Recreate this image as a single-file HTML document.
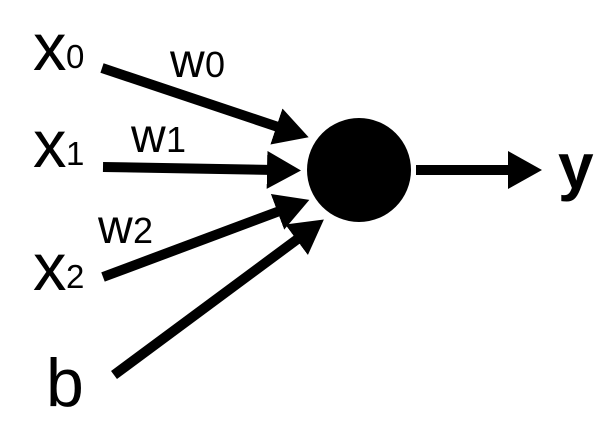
<!DOCTYPE html>
<html><head><meta charset="utf-8"><style>
html,body{margin:0;padding:0;background:#fff;}
svg{display:block;}
text{font-family:"Liberation Sans",Arial,sans-serif;fill:#000;}
</style></head><body>
<svg width="611" height="422" viewBox="0 0 611 422" xmlns="http://www.w3.org/2000/svg">
<defs>
<marker id="h" markerUnits="userSpaceOnUse" markerWidth="40" markerHeight="40" viewBox="0 -20 40 40" refX="8" refY="0" orient="auto">
<path d="M0,-19 L34,0 L0,19 z" fill="#000"/>
</marker>
</defs>
<g stroke="#000" stroke-width="10" fill="none" marker-end="url(#h)">
<line x1="102" y1="68" x2="284" y2="129"/>
<line x1="103" y1="167" x2="275" y2="170"/>
<line x1="103" y1="277" x2="285" y2="209"/>
<line x1="114" y1="375" x2="303" y2="235"/>
<line x1="416" y1="170" x2="516" y2="170"/>
</g>
<ellipse cx="359" cy="170" rx="52" ry="52" fill="#000"/>
<text x="33" y="70" font-size="67">x</text><text x="66" y="68" font-size="33">0</text>
<text x="33" y="167" font-size="67">x</text><text x="66" y="165" font-size="33">1</text>
<text x="33" y="290" font-size="67">x</text><text x="66" y="288" font-size="33">2</text>
<text x="170" y="77" font-size="48">w</text><text x="205" y="77" font-size="36">0</text>
<text x="131" y="152" font-size="48">w</text><text x="166" y="152" font-size="36">1</text>
<text x="98" y="243" font-size="48">w</text><text x="133" y="243" font-size="36">2</text>
<text x="46" y="406" font-size="68">b</text>
<text x="558" y="188" font-size="64" font-weight="bold">y</text>
</svg>
</body></html>
